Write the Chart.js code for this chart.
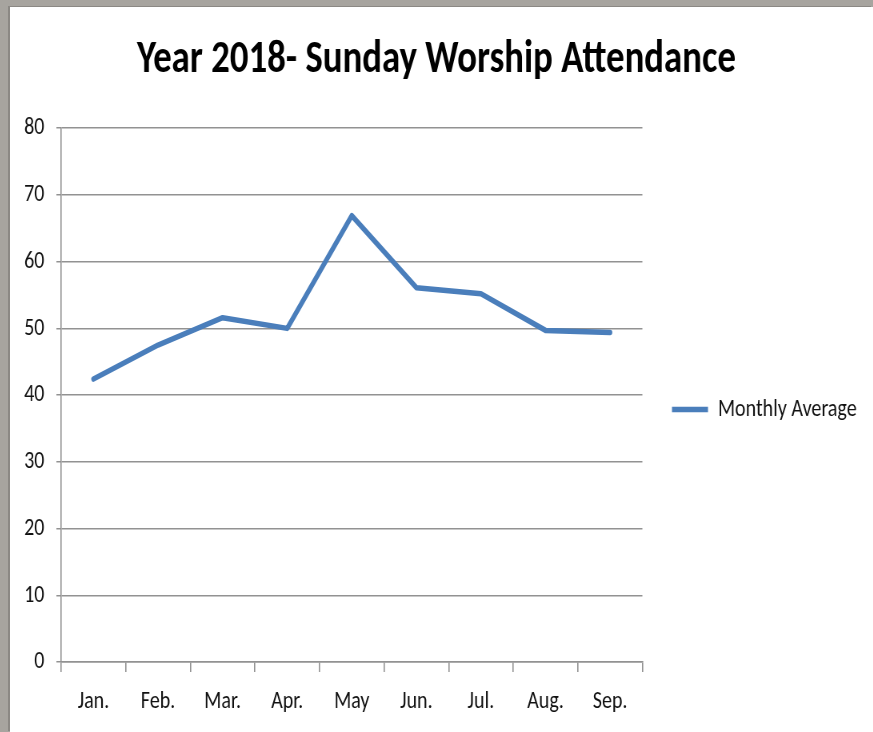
<!DOCTYPE html>
<html>
<head>
<meta charset="utf-8">
<script src="https://cdn.jsdelivr.net/npm/chart.js@4/dist/chart.umd.min.js"></script>
<style>
    html, body { margin: 0; padding: 0; }
    body {
        width: 873px;
        height: 732px;
        background: #a7a49f;
        position: relative;
        overflow: hidden;
    }
    .frame {
        position: absolute;
        left: 10px;
        top: 7px;
        width: 863px;
        height: 725px;
        background: #fff;
        box-shadow: -2px -1px 0 #8b8884;
        overflow: hidden;
    }
    /* the original picture is a little narrower than its fonts; squeeze it the same way */
    #attendanceChart {
        display: block;
        transform: scaleX(0.8);
        transform-origin: 0 0;
    }
</style>
</head>
<body>
<div class="frame">
    <canvas id="attendanceChart" width="1079" height="725"></canvas>
</div>
<script>
// Data
const months = ['Jan.', 'Feb.', 'Mar.', 'Apr.', 'May', 'Jun.', 'Jul.', 'Aug.', 'Sep.'];
const monthlyAverage = [42.4, 47.5, 51.6, 50.0, 66.9, 56.1, 55.2, 49.7, 49.4];
const yTicks = [0, 10, 20, 30, 40, 50, 60, 70, 80];

const fontFamily = 'Calibri, Carlito, Lato, sans-serif';
const gridGray = '#929292';

// the legend box comes out a bit too narrow and cuts its own text; let it run to the canvas edge
const legendRoom = {
    id: 'legendRoom',
    afterLayout: chart => {
        if (chart.legend) {
            chart.legend.right = chart.width;
            chart.legend.width = chart.legend.right - chart.legend.left;
        }
    }
};

document.addEventListener('DOMContentLoaded', () => {
    const ctx = document.getElementById('attendanceChart');

    new Chart(ctx, {
        type: 'line',
        data: {
            labels: months,
            datasets: [{
                label: 'Monthly Average',
                data: monthlyAverage,
                borderColor: '#4a7ebb',
                backgroundColor: '#4a7ebb',
                borderWidth: 5.5,
                borderCapStyle: 'round',
                borderJoinStyle: 'round',
                pointRadius: 0,
                tension: 0,
                fill: false
            }]
        },
        plugins: [legendRoom],
        options: {
            responsive: false,
            animation: false,
            layout: {
                padding: { left: 18, right: 31, top: 0, bottom: 0 }
            },
            scales: {
                x: {
                    offset: true,
                    afterFit: scale => { scale.height = 70; },
                    grid: {
                        offset: true,
                        drawOnChartArea: false,
                        drawTicks: true,
                        tickLength: 10,
                        lineWidth: 1.6,
                        color: gridGray
                    },
                    border: { display: true, color: gridGray, width: 1.5 },
                    ticks: {
                        color: '#111',
                        padding: 15,
                        font: { family: fontFamily, size: 25 }
                    }
                },
                y: {
                    min: 0,
                    max: 80,
                    afterFit: scale => { scale.width = 46; },
                    afterBuildTicks: scale => {
                        scale.ticks = yTicks.map(v => ({ value: v }));
                    },
                    grid: {
                        color: gridGray,
                        lineWidth: 1.5,
                        tickLength: 6
                    },
                    border: { display: true, color: gridGray, width: 1.6 },
                    ticks: {
                        color: '#111',
                        padding: 15,
                        font: { family: fontFamily, size: 25 }
                    }
                }
            },
            plugins: {
                title: {
                    display: true,
                    text: 'Year 2018- Sunday Worship Attendance',
                    color: '#000',
                    font: { family: fontFamily, size: 46, weight: 'bold' },
                    padding: { top: 26, bottom: 40 }
                },
                legend: {
                    position: 'right',
                    title: {
                        display: true,
                        text: '',
                        font: { size: 1 },
                        padding: { top: 79, bottom: 0 }
                    },
                    labels: {
                        usePointStyle: true,
                        pointStyle: 'line',
                        pointStyleWidth: 45,
                        color: '#111',
                        padding: 37,
                        font: { family: fontFamily, size: 25 }
                    }
                },
                tooltip: { enabled: false }
            }
        }
    });
});
</script>
</body>
</html>
